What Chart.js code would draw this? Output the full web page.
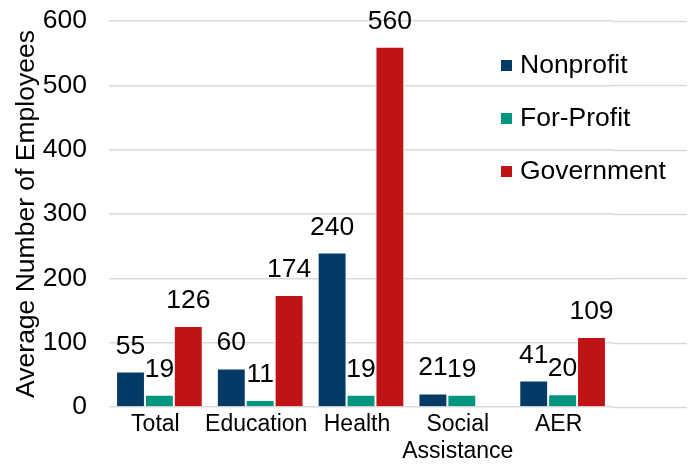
<!DOCTYPE html>
<html>
<head>
<meta charset="utf-8">
<script src="https://cdn.jsdelivr.net/npm/chart.js@4"></script>
<style>
  html, body { margin: 0; padding: 0; background: #fff; }
  #wrap { position: relative; width: 698px; height: 472px; }
  #legend { position: absolute; left: 501px; top: 49px; font: 26.5px "Liberation Sans", Arial, sans-serif; color: #000; }
  #legend div { height: 53px; line-height: 30px; white-space: nowrap; }
  #legend span { display: inline-block; width: 11px; height: 11px; margin-right: 8px; vertical-align: 2px; }
</style>
</head>
<body>
<div id="wrap">
  <canvas id="chart" width="698" height="472"></canvas>
  <div id="legend"></div>
</div>
<script>
// categories and series
const categories = ['Total', 'Education', 'Health', ['Social', 'Assistance'], 'AER'];
const nonprofit = [55, 60, 240, 21, 41];
const forProfit = [19, 11, 19, 19, 20];
const government = [126, 174, 560, null, 109];
const seriesNames = ['Nonprofit', 'For-Profit', 'Government'];
const seriesColors = ['#033a66', '#00957e', '#c01316'];
const yTicks = [0, 100, 200, 300, 400, 500, 600];

const FONT = '"Liberation Sans", Arial, sans-serif';
const SIZE = 26.5;

// labels on top of the bars
const barLabels = {
    id: 'barLabels',
    afterDatasetsDraw(chart) {
        const ctx = chart.ctx;
        ctx.save();
        ctx.font = SIZE + 'px ' + FONT;
        ctx.fillStyle = '#000';
        ctx.textAlign = 'center';
        ctx.textBaseline = 'alphabetic';
        chart.data.datasets.forEach((ds, i) => {
            chart.getDatasetMeta(i).data.forEach((bar, j) => {
                if (ds.data[j] == null) return;
                ctx.fillText(String(ds.data[j]), bar.x, bar.y - 18);
            });
        });
        ctx.restore();
    }
};

// the gridlines in the original run on under the legend
const longGrid = {
    id: 'longGrid',
    beforeDatasetsDraw(chart) {
        const ctx = chart.ctx;
        const y = chart.scales.y;
        ctx.save();
        ctx.strokeStyle = '#d9d9d9';
        ctx.lineWidth = 1.5;
        y.ticks.forEach(t => {
            const py = Math.round(y.getPixelForValue(t.value)) + 0.5;
            ctx.beginPath();
            ctx.moveTo(chart.chartArea.right, py);
            ctx.lineTo(chart.width - 11, py);
            ctx.stroke();
        });
        ctx.restore();
    }
};

new Chart(document.getElementById('chart'), {
    type: 'bar',
    data: {
        labels: categories,
        datasets: [nonprofit, forProfit, government].map((d, i) => ({
            label: seriesNames[i],
            data: d,
            backgroundColor: seriesColors[i],
            borderColor: '#ffffff',
            borderWidth: 1,
            categoryPercentage: 0.86,
            barPercentage: 1.0
        }))
    },
    options: {
        responsive: false,
        animation: false,
        layout: { padding: { top: 21, right: 85, bottom: 0, left: 0 } },
        plugins: { legend: { display: false }, tooltip: { enabled: false } },
        scales: {
            x: {
                grid: { display: false },
                border: { display: false },
                ticks: {
                    color: '#000',
                    font: { family: FONT, size: 23, lineHeight: 1.17 },
                    padding: -4,
                    labelOffset: -4,
                    maxRotation: 0,
                    autoSkip: false
                },
                afterFit(scale) { scale.height = 65; }
            },
            y: {
                min: 0,
                max: 600,
                afterBuildTicks(scale) { scale.ticks = yTicks.map(v => ({ value: v })); },
                grid: { color: '#d9d9d9', lineWidth: 1.5, drawTicks: false },
                border: { display: false },
                ticks: { color: '#000', font: { family: FONT, size: SIZE }, padding: 22 },
                title: {
                    display: true,
                    text: 'Average Number of Employees',
                    color: '#000',
                    font: { family: FONT, size: SIZE },
                    padding: { top: 11, bottom: 0 }
                },
                afterFit(scale) {
                    scale.width = 109;
                    scale.paddingTop = 0;
                    scale.paddingBottom = 0;
                }
            }
        }
    },
    plugins: [longGrid, barLabels]
});

// legend as html, same names and colours as the datasets
document.getElementById('legend').innerHTML = seriesNames
    .map((n, i) => `<div><span style="background:${seriesColors[i]}"></span>${n}</div>`)
    .join('');
</script>
</body>
</html>
